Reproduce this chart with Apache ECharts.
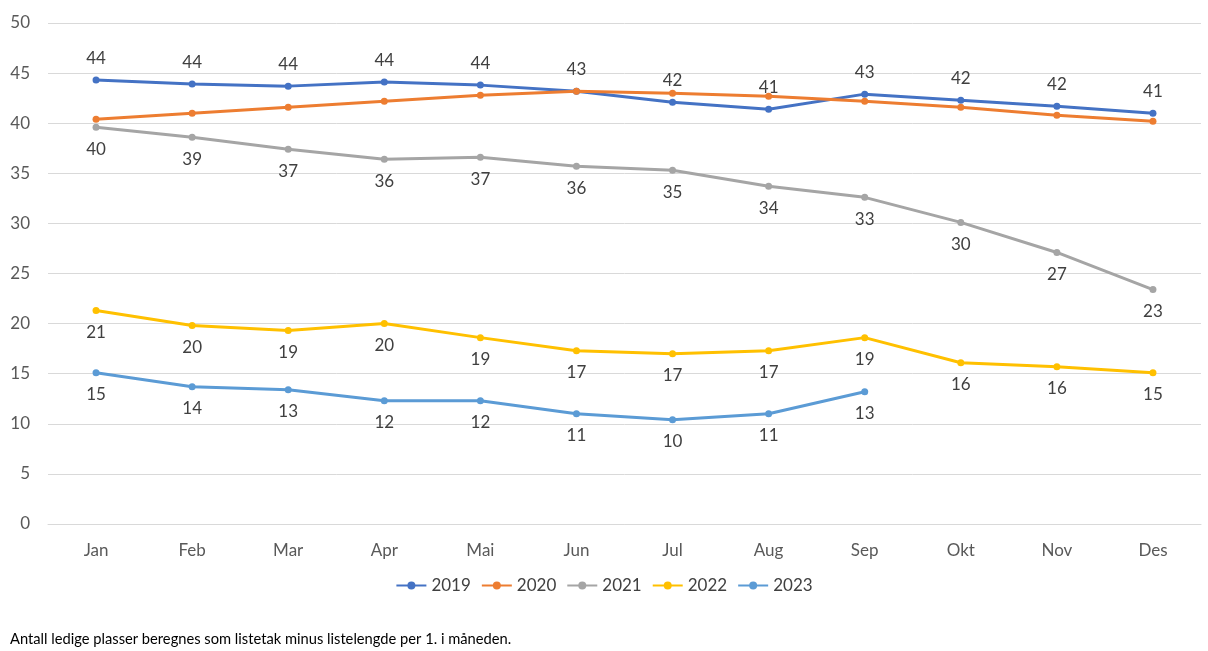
<!DOCTYPE html>
<html><head><meta charset="utf-8">
<script src="https://cdn.jsdelivr.net/npm/echarts@6/dist/echarts.min.js"></script>
<style>html,body{margin:0;padding:0;background:#fff}#c{width:1208px;height:651px}</style>
</head><body><div id="c"></div>
<script>
const months = ['Jan','Feb','Mar','Apr','Mai','Jun','Jul','Aug','Sep','Okt','Nov','Des'];
const s2019 = [44.3,43.9,43.7,44.1,43.8,43.2,42.1,41.4,42.9,42.3,41.7,41.0];
const s2020 = [40.4,41.0,41.6,42.2,42.8,43.2,43.0,42.7,42.2,41.6,40.8,40.2];
const s2021 = [39.6,38.6,37.4,36.4,36.6,35.7,35.3,33.7,32.6,30.1,27.1,23.4];
const s2022 = [21.3,19.8,19.3,20.0,18.6,17.3,17.0,17.3,18.6,16.1,15.7,15.1];
const s2023 = [15.1,13.7,13.4,12.3,12.3,11.0,10.4,11.0,13.2];
const note = 'Antall ledige plasser beregnes som listetak minus listelengde per 1. i måneden.';

const font = 'Lato, "Open Sans", sans-serif';
function mk(name, data, color, labelPos) {
  return {
    name, type: 'line', data, color,
    symbol: 'circle', symbolSize: 7,
    lineStyle: {width: 3, color},
    itemStyle: {color},
    label: labelPos ? {show: true, position: labelPos, distance: 10, color: '#404040', fontSize: 17, fontFamily: font,
      formatter: p => Math.round(p.value)} : {show: false},
    emphasis: {disabled: true}
  };
}
const chart = echarts.init(document.getElementById('c'));
chart.setOption({
  animation: false,
  grid: {left: 48, right: 7, top: 23, bottom: 127},
  graphic: [{type: 'text', left: 10, top: 632, style: {text: note, fontSize: 14.7, fontFamily: font, fill: '#000'}}],
  legend: {bottom: 52, left: 'center', itemWidth: 30, itemHeight: 10, itemGap: 10,
    textStyle: {fontSize: 17, color: '#404040', fontFamily: font},
    data: ['2019','2020','2021','2022','2023']},
  xAxis: {type: 'category', data: months, boundaryGap: true,
    axisLine: {lineStyle: {color: '#D9D9D9'}}, axisTick: {show: false},
    axisLabel: {fontSize: 17, color: '#595959', fontFamily: font, margin: 18}},
  yAxis: {type: 'value', min: 0, max: 50, interval: 5,
    axisLine: {show: false}, axisTick: {show: false},
    splitLine: {lineStyle: {color: '#D9D9D9'}},
    axisLabel: {fontSize: 17, color: '#595959', fontFamily: font, margin: 18}},
  series: [
    mk('2019', s2019, '#4472C4', 'top'),
    mk('2020', s2020, '#ED7D31', null),
    mk('2021', s2021, '#A5A5A5', 'bottom'),
    mk('2022', s2022, '#FFC000', 'bottom'),
    mk('2023', s2023, '#5B9BD5', 'bottom')
  ]
});
</script></body></html>
